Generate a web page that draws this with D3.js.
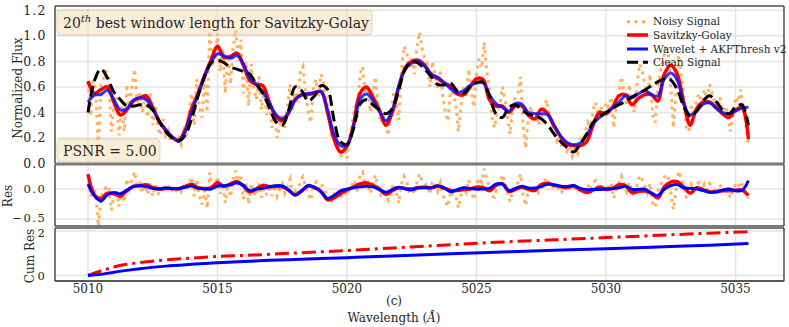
<!DOCTYPE html>
<html><head><meta charset="utf-8">
<script src="https://cdn.jsdelivr.net/npm/d3@7"></script>
<style>body{margin:0;background:#fff} svg{display:block} text{font-family:"DejaVu Serif",serif;fill:#262626}</style>
</head><body><svg id="c" width="789" height="327"></svg>
<script>
// ---- data ----
// smooth series sampled every 0.25 Å from 5010.00 to 5035.50
const wlStart = 5010, wlStep = 0.25;
const clean = [0.40,0.65,0.74,0.67,0.56,0.50,0.45,0.45,0.46,0.46,0.42,0.33,0.25,0.20,0.175,0.22,0.35,0.53,0.68,0.79,
0.81,0.79,0.755,0.74,0.72,0.70,0.62,0.55,0.44,0.33,0.30,0.42,0.60,0.57,0.49,0.53,0.61,0.58,0.34,0.17,
0.15,0.27,0.465,0.50,0.46,0.42,0.39,0.43,0.58,0.74,0.80,0.785,0.74,0.68,0.62,0.615,0.63,0.57,0.55,0.60,
0.635,0.635,0.53,0.39,0.36,0.44,0.46,0.42,0.385,0.375,0.35,0.30,0.23,0.17,0.125,0.09,0.15,0.23,0.32,0.37,
0.40,0.43,0.46,0.485,0.52,0.55,0.575,0.61,0.64,0.665,0.655,0.58,0.45,0.37,0.41,0.49,0.53,0.485,0.42,0.39,
0.44,0.46,0.30];
const savgol = [0.645,0.55,0.58,0.60,0.48,0.38,0.42,0.49,0.515,0.53,0.44,0.33,0.26,0.205,0.18,0.26,0.43,0.55,0.69,0.81,
0.92,0.83,0.84,0.865,0.77,0.65,0.62,0.61,0.48,0.37,0.335,0.40,0.50,0.54,0.54,0.555,0.565,0.40,0.19,0.09,
0.135,0.30,0.55,0.60,0.52,0.42,0.30,0.40,0.60,0.75,0.80,0.81,0.77,0.70,0.665,0.63,0.605,0.545,0.54,0.60,
0.665,0.66,0.50,0.45,0.45,0.40,0.45,0.45,0.38,0.35,0.425,0.39,0.29,0.21,0.15,0.14,0.14,0.17,0.30,0.40,
0.39,0.44,0.53,0.54,0.46,0.51,0.54,0.54,0.49,0.70,0.77,0.70,0.48,0.30,0.43,0.48,0.48,0.44,0.39,0.36,
0.42,0.44,0.19];
const wavelet = [0.48,0.535,0.54,0.575,0.50,0.42,0.43,0.495,0.515,0.50,0.43,0.33,0.265,0.21,0.18,0.25,0.40,0.54,0.68,0.79,
0.86,0.845,0.825,0.845,0.78,0.67,0.62,0.56,0.475,0.385,0.35,0.40,0.50,0.535,0.55,0.555,0.565,0.42,0.23,0.14,
0.145,0.29,0.50,0.545,0.495,0.41,0.335,0.42,0.61,0.74,0.785,0.80,0.76,0.70,0.675,0.635,0.585,0.555,0.57,0.61,
0.63,0.635,0.54,0.47,0.44,0.41,0.47,0.465,0.40,0.39,0.39,0.38,0.30,0.215,0.165,0.147,0.16,0.22,0.31,0.36,
0.40,0.435,0.48,0.53,0.515,0.545,0.57,0.54,0.53,0.66,0.71,0.655,0.47,0.38,0.41,0.465,0.475,0.435,0.40,0.39,
0.41,0.435,0.44];
// noisy signal sampled every 0.1 Å from 5010.0 to 5035.5
const noisyStep = 0.1;
const noisy = [
0.64,0.37,0.65,0.58,0.08,0.62,0.66,0.72,0.70,0.25,
0.46,0.52,0.22,0.45,0.25,0.62,0.45,0.60,0.74,0.48,
0.55,0.40,0.52,0.36,0.55,0.30,0.45,0.28,0.22,0.35,
0.22,0.26,0.17,0.22,0.16,0.20,0.15,0.26,0.22,0.40,
0.55,0.30,0.66,0.45,0.36,0.66,0.40,1.04,0.78,0.80,
1.02,0.72,0.90,0.55,0.85,0.62,0.90,1.05,0.80,0.97,
0.55,0.80,0.45,0.78,0.60,0.50,0.68,0.42,0.60,0.38,
0.50,0.28,0.42,0.20,0.30,0.38,0.28,0.45,0.62,0.42,
0.56,0.48,0.72,0.76,0.55,0.40,0.32,0.58,0.66,0.52,
0.70,0.62,0.50,0.42,0.20,0.26,0.18,0.10,0.05,0.18,
0.04,0.20,0.32,0.45,0.35,0.70,0.76,0.55,0.60,0.40,
0.55,0.68,0.45,0.32,0.38,0.28,0.22,0.40,0.55,0.48,
0.34,0.72,0.92,0.88,0.75,0.82,0.70,0.90,1.03,0.90,
0.82,0.78,0.60,0.80,0.70,0.58,0.72,0.52,0.40,0.33,
0.60,0.52,0.48,0.25,0.45,0.60,0.52,0.74,0.56,0.44,
0.70,0.82,0.75,0.95,0.72,0.58,0.35,0.28,0.42,0.45,
0.60,0.50,0.36,0.23,0.45,0.52,0.55,0.68,0.30,0.12,
0.38,0.45,0.32,0.40,0.30,0.36,0.42,0.50,0.38,0.30,
0.25,0.18,0.22,0.12,0.18,0.10,0.14,0.06,0.12,0.08,
0.20,0.12,0.25,0.32,0.26,0.42,0.48,0.38,0.45,0.36,
0.48,0.44,0.52,0.28,0.48,0.56,0.68,0.55,0.45,0.62,
0.48,0.40,0.62,0.78,0.72,0.62,0.52,0.70,0.38,0.32,
0.60,0.72,0.80,0.90,0.88,0.60,0.28,0.55,0.85,0.70,
0.52,0.28,0.25,0.45,0.38,0.50,0.55,0.45,0.58,0.50,
0.62,0.55,0.48,0.40,0.52,0.38,0.45,0.40,0.25,0.38,
0.52,0.48,0.58,0.45,0.30,0.14];
// cumulative residuals
const cumWl  = [5010,5010.5,5011,5011.5,5012,5013,5014,5015,5016,5017,5018,5020,5022,5024,5026,5028,5030,5032,5034,5035.5];
const cumSavgol  = [0,0.20,0.38,0.50,0.58,0.70,0.78,0.85,0.90,0.95,1.01,1.12,1.25,1.38,1.50,1.60,1.70,1.80,1.90,1.96];
const cumWavelet = [0,0.05,0.15,0.23,0.30,0.42,0.50,0.57,0.63,0.68,0.72,0.80,0.88,0.97,1.05,1.13,1.20,1.28,1.36,1.43];
// ticks / labels
const xTicks = [5010,5015,5020,5025,5030,5035];
const fluxTicks = [0,0.2,0.4,0.6,0.8,1.0,1.2];
const resTicks = [0,-0.5];
const cumTicks = [0,2];
const seriesNames = ["Noisy Signal","Savitzky-Golay","Wavelet + AKFThresh v2","Clean Signal"];

// ---- derived ----
const wl = clean.map((_,i)=>wlStart+wlStep*i);
const wlN = noisy.map((_,i)=>+(wlStart+noisyStep*i).toFixed(2));
const cleanAt = d3.scaleLinear().domain(wl).range(clean);
const resNoisy = noisy.map((v,i)=>v-cleanAt(wlN[i]));
const resSavgol = savgol.map((v,i)=>v-clean[i]);
const resWavelet = wavelet.map((v,i)=>v-clean[i]);

// ---- layout ----
const svg = d3.select("#c");
const X0=55, X1=784;
const x = d3.scaleLinear().domain([5008.726,5036.873]).range([X0,X1]);
const yF = d3.scaleLinear().domain([0,1.234]).range([163.5,6]);
const yR = d3.scaleLinear().domain([-0.617,0.408]).range([226,164.5]);
const yC = d3.scaleLinear().domain([-0.247,2.13]).range([281,228]);
const panels=[{y:yF,t:6,b:163.5,ticks:fluxTicks,fmt:d3.format(".1f"),fs:12.5,ls:1.1,off:()=>0},
              {y:yR,t:164.5,b:226,ticks:resTicks,fmt:d=>d3.format(".1f")(d).replace("-","\u2212"),fs:11.5,ls:1.6,off:d=>d<0?-1.2:0},
              {y:yC,t:228,b:281,ticks:cumTicks,fmt:d3.format("d"),fs:11.5,ls:1.6,off:d=>d>0?1.8:0}];

const col={noisy:"#ffa94d",sg:"#ff0000",wav:"#1010ff",clean:"#000000"};

panels.forEach((p,k)=>{
  const g=svg.append("g");
  const cid="clip"+k;
  svg.append("clipPath").attr("id",cid).append("rect").attr("x",X0).attr("y",p.t).attr("width",X1-X0).attr("height",p.b-p.t);
  g.selectAll(".vg").data(xTicks).join("line").attr("x1",d=>x(d)).attr("x2",d=>x(d)).attr("y1",p.t).attr("y2",p.b)
    .attr("stroke","#e4e4e4").attr("stroke-width",1.5);
  g.selectAll(".hg").data(p.ticks).join("line").attr("x1",X0).attr("x2",X1).attr("y1",d=>p.y(d)).attr("y2",d=>p.y(d))
    .attr("stroke","#e4e4e4").attr("stroke-width",1.5);
  g.selectAll(".tl").data(p.ticks).join("text").attr("x",46.5).attr("y",d=>p.y(d)+p.off(d)).attr("dy","0.35em")
    .attr("text-anchor","end").attr("font-size",p.fs).attr("letter-spacing",p.ls).text(p.fmt);
  p.clip="url(#"+cid+")";
});

const lineF=(yS,xs,curve)=>d3.line().x((d,i)=>x(xs[i])).y(d=>yS(d)).curve(curve||d3.curveLinear);
const smooth=d3.curveCatmullRom.alpha(0.5);

// top panel
const gT=svg.append("g").attr("clip-path",panels[0].clip);
gT.append("path").attr("d",lineF(yF,wlN)(noisy)).attr("fill","none").attr("stroke",col.noisy).attr("stroke-width",3).attr("stroke-dasharray","3,4.5").attr("opacity",0.9);
gT.append("path").attr("d",lineF(yF,wl,smooth)(savgol)).attr("fill","none").attr("stroke",col.sg).attr("stroke-width",3.5);
gT.append("path").attr("d",lineF(yF,wl,smooth)(wavelet)).attr("fill","none").attr("stroke",col.wav).attr("stroke-width",3).attr("opacity",0.85);
gT.append("path").attr("d",lineF(yF,wl,smooth)(clean)).attr("fill","none").attr("stroke",col.clean).attr("stroke-width",3).attr("stroke-dasharray","11,5");

// res panel
const gR=svg.append("g").attr("clip-path",panels[1].clip);
gR.append("path").attr("d",lineF(yR,wlN)(resNoisy)).attr("fill","none").attr("stroke",col.noisy).attr("stroke-width",3).attr("stroke-dasharray","3,4.5").attr("opacity",0.9);
gR.append("path").attr("d",lineF(yR,wl,smooth)(resSavgol)).attr("fill","none").attr("stroke",col.sg).attr("stroke-width",3.5);
gR.append("path").attr("d",lineF(yR,wl,smooth)(resWavelet)).attr("fill","none").attr("stroke","#0000ff").attr("stroke-width",3);

// cum panel
const gC=svg.append("g").attr("clip-path",panels[2].clip);
gC.append("path").attr("d",lineF(yC,cumWl,d3.curveMonotoneX)(cumSavgol)).attr("fill","none").attr("stroke",col.sg).attr("stroke-width",3).attr("stroke-dasharray","14,5,3,5");
gC.append("path").attr("d",lineF(yC,cumWl,d3.curveMonotoneX)(cumWavelet)).attr("fill","none").attr("stroke","#0000ff").attr("stroke-width",3);

// frames
panels.forEach((p,k)=>{
  svg.append("line").attr("x1",X0).attr("x2",X1).attr("y1",p.t).attr("y2",p.t).attr("stroke","#7a7a7a").attr("stroke-width",2);
  svg.append("line").attr("x1",X0).attr("x2",X1).attr("y1",p.b).attr("y2",p.b).attr("stroke",k==2?"#222":"#7a7a7a").attr("stroke-width",k==2?1.5:2);
  svg.append("line").attr("x1",X0).attr("x2",X0).attr("y1",p.t).attr("y2",p.b).attr("stroke","#333").attr("stroke-width",1.3);
  svg.append("line").attr("x1",X1).attr("x2",X1).attr("y1",p.t).attr("y2",p.b).attr("stroke","#333").attr("stroke-width",1.3);
});

// x tick labels
svg.selectAll(".xt").data(xTicks).join("text").attr("x",d=>x(d)).attr("y",293).attr("text-anchor","middle").attr("font-size",12).text(d=>d);
svg.append("text").attr("x",394).attr("y",305).attr("text-anchor","middle").attr("font-size",12).text("(c)");
const xl=svg.append("text").attr("x",394).attr("y",322).attr("text-anchor","middle").attr("font-size",12);
xl.append("tspan").text("Wavelength (");
xl.append("tspan").attr("font-style","italic").text("Å");
xl.append("tspan").text(")");

// y labels
const ylab=(t,xx,yy)=>svg.append("text").attr("transform",`translate(${xx},${yy}) rotate(-90)`).attr("text-anchor","middle").attr("font-size",12).text(t);
ylab("Normalized Flux",22,88);
ylab("Res",12,196);
ylab("Cum Res",34,256);

// title box
const tb=svg.append("g");
tb.append("rect").attr("x",57).attr("y",10).attr("width",315).attr("height",25).attr("rx",4)
  .attr("fill","rgba(245,222,179,0.5)").attr("stroke","rgba(200,180,150,0.5)");
const tt=tb.append("text").attr("x",63).attr("y",28).attr("font-size",14);
tt.append("tspan").text("20");
tt.append("tspan").attr("font-style","italic").attr("font-size",10).attr("dy",-6).text("th");
tt.append("tspan").attr("dy",6).text(" best window length for Savitzky-Golay");
const pb=svg.append("g");
pb.append("rect").attr("x",57).attr("y",139).attr("width",103).attr("height",23).attr("rx",4)
  .attr("fill","rgba(245,222,179,0.5)").attr("stroke","rgba(200,180,150,0.5)");
pb.append("text").attr("x",63).attr("y",156).attr("font-size",14).text("PSNR = 5.00");

// legend
const lg=svg.append("g");
const lgY=[21.7,35,49,62.3];
const lgStyle=[{c:col.noisy,d:"3,4.5",w:3},{c:col.sg,d:null,w:3.5},{c:col.wav,d:null,w:3},{c:col.clean,d:"11,5",w:3}];
seriesNames.forEach((n,i)=>{
  lg.append("line").attr("x1",627).attr("x2",648).attr("y1",lgY[i]).attr("y2",lgY[i]).attr("stroke",lgStyle[i].c)
    .attr("stroke-width",lgStyle[i].w).attr("stroke-dasharray",lgStyle[i].d);
  lg.append("text").attr("x",653).attr("y",lgY[i]).attr("dy","0.35em").attr("font-size",10.5).text(n);
});
</script></body></html>
